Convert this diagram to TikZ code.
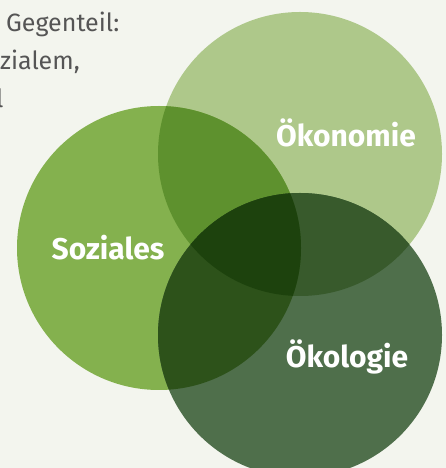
\documentclass[tikz,border=0pt]{standalone}
\usepackage{fontspec}
\setmainfont{Fira Sans}
\definecolor{bg}{HTML}{F3F5EE}
\definecolor{oekon}{HTML}{AEC88A}
\definecolor{soz}{HTML}{84B14E}
\definecolor{oekol}{HTML}{4F6F4B}
\definecolor{sozoekon}{HTML}{5E912E}
\definecolor{oekonoekol}{HTML}{385A2C}
\definecolor{sozoekol}{HTML}{2D521A}
\definecolor{triple}{HTML}{1D420D}
\definecolor{txtgrey}{HTML}{555555}
\tikzset{
  label/.style={text=white, font=\fontsize{30}{36}\selectfont\bfseries, anchor=base, inner sep=0pt},
  bodytext/.style={text=txtgrey, font=\fontsize{25}{30}\selectfont, anchor=base west, inner sep=0pt}
}
\begin{document}
\begin{tikzpicture}[x=1pt,y=1pt]
\useasboundingbox (0,0) rectangle (446,468);
\clip (0,0) rectangle (446,468);
\fill[bg] (0,0) rectangle (446,468);
% circle centres
\coordinate (cE) at (300,314);
\coordinate (cS) at (159,220);
\coordinate (cO) at (300,133);
\def\R{142}
% base circles
\fill[oekon] (cE) circle (\R);
\fill[soz] (cS) circle (\R);
\fill[oekol] (cO) circle (\R);
% pairwise overlaps
\begin{scope}
  \clip (cS) circle (\R);
  \fill[sozoekon] (cE) circle (\R);
\end{scope}
\begin{scope}
  \clip (cE) circle (\R);
  \fill[oekonoekol] (cO) circle (\R);
\end{scope}
\begin{scope}
  \clip (cS) circle (\R);
  \fill[sozoekol] (cO) circle (\R);
\end{scope}
\begin{scope}
  \clip (cS) circle (\R);
  \clip (cE) circle (\R);
  \fill[triple] (cO) circle (\R);
\end{scope}
% labels
\node[label] (lE) at (346,321) {Ökonomie};
\node[label] (lS) at (108,208) {Soziales};
\node[label] (lO) at (347,100) {Ökologie};
% cut-off text at top left
\node[bodytext] (t1) at (6,436) {Gegenteil:};
\node[bodytext] (t2) at (0,398) {zialem,};
\node[bodytext] (t3) at (-4,360) {l};
\end{tikzpicture}
\end{document}
